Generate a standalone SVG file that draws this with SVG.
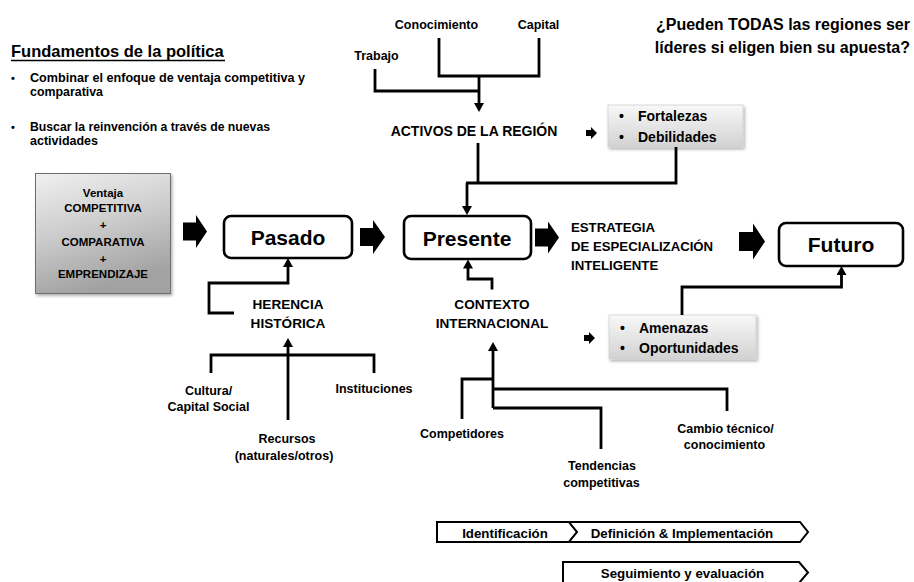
<svg xmlns="http://www.w3.org/2000/svg" width="914" height="582" viewBox="0 0 914 582">
<style>
.t{font-family:'Liberation Sans',Arial,sans-serif;font-weight:bold;fill:#000}
.c{text-anchor:middle}
.ln{fill:none;stroke:#000;stroke-width:2.8}
.ar{marker-end:url(#ah)}
.box{fill:#fff;stroke:#000;stroke-width:2.6}
.blk{fill:#000}
.chev{fill:#fff;stroke:#000;stroke-width:2}
</style>
<defs>
<marker id="ah" viewBox="0 0 9 10" refX="2" refY="5" markerWidth="9" markerHeight="10" markerUnits="userSpaceOnUse" orient="auto">
<path d="M0,0 L9,5 L0,10 Z" fill="#000"/>
</marker>
<linearGradient id="gGray" x1="0" y1="0" x2="0.3" y2="1">
<stop offset="0" stop-color="#f0f0f0"/>
<stop offset="0.5" stop-color="#cdcdcd"/>
<stop offset="1" stop-color="#a2a2a2"/>
</linearGradient>
<linearGradient id="gLight" x1="0" y1="0" x2="0" y2="1">
<stop offset="0" stop-color="#f8f8f8"/>
<stop offset="1" stop-color="#d2d2d2"/>
</linearGradient>
<filter id="sh" x="-10%" y="-10%" width="130%" height="140%">
<feDropShadow dx="1.5" dy="2" stdDeviation="1.5" flood-color="#000" flood-opacity="0.3"/>
</filter>
</defs>
<rect width="914" height="582" fill="#fff"/>

<g id="fundamentos">
<text class="t" x="11" y="57" font-size="16.5">Fundamentos de la política</text>
<line x1="11" y1="60.5" x2="225" y2="60.5" stroke="#000" stroke-width="1.4"/>
<text class="t" x="11" y="82" font-size="11">•</text>
<text class="t" x="30" y="82" font-size="12" textLength="275" lengthAdjust="spacingAndGlyphs">Combinar el enfoque de ventaja competitiva y</text>
<text class="t" x="30" y="96" font-size="12" textLength="73" lengthAdjust="spacingAndGlyphs">comparativa</text>
<text class="t" x="11" y="131" font-size="11">•</text>
<text class="t" x="30" y="131" font-size="12" textLength="240" lengthAdjust="spacingAndGlyphs">Buscar la reinvención a través de nuevas</text>
<text class="t" x="30" y="145" font-size="12" textLength="68" lengthAdjust="spacingAndGlyphs">actividades</text>
</g>

<g id="pregunta">
<text class="t" x="910" y="30" font-size="16" text-anchor="end">¿Pueden TODAS las regiones ser</text>
<text class="t" x="910" y="53" font-size="16" text-anchor="end">líderes si eligen bien su apuesta?</text>
</g>

<g id="conocimiento"><text class="t c" x="436.5" y="29" font-size="12.5">Conocimiento</text></g>
<g id="capital"><text class="t c" x="538.5" y="29" font-size="12.5">Capital</text></g>
<g id="trabajo"><text class="t c" x="376.5" y="60" font-size="12.5">Trabajo</text></g>

<g id="activos"><text class="t c" x="474" y="135.5" font-size="14">ACTIVOS DE LA REGIÓN</text></g>

<g id="fortalezas">
<rect x="608" y="105" width="135" height="42" fill="url(#gLight)" stroke="#cfcfcf" stroke-width="0.8" filter="url(#sh)"/>
<text class="t" x="619" y="121" font-size="14">•</text>
<text class="t" x="638" y="121" font-size="14">Fortalezas</text>
<text class="t" x="619" y="141.5" font-size="14">•</text>
<text class="t" x="638" y="141.5" font-size="14">Debilidades</text>
</g>

<g id="ventaja">
<rect x="35.5" y="173.5" width="135" height="120" fill="url(#gGray)" stroke="#6e6e6e" stroke-width="1" filter="url(#sh)"/>
<text class="t c" x="103" y="197" font-size="11.5">Ventaja</text>
<text class="t c" x="103" y="211.5" font-size="11.5">COMPETITIVA</text>
<text class="t c" x="103" y="229" font-size="11.5">+</text>
<text class="t c" x="103" y="246" font-size="11.5">COMPARATIVA</text>
<text class="t c" x="103" y="263" font-size="11.5">+</text>
<text class="t c" x="103" y="278" font-size="11.5">EMPRENDIZAJE</text>
</g>

<g id="pasado">
<rect class="box" x="224" y="216" width="128" height="42" rx="7"/>
<text class="t c" x="288" y="245" font-size="21">Pasado</text>
</g>
<g id="presente">
<rect class="box" x="404" y="216" width="127" height="43" rx="7"/>
<text class="t c" x="467" y="246" font-size="21">Presente</text>
</g>
<g id="futuro">
<rect class="box" x="779" y="223" width="124" height="43" rx="7"/>
<text class="t c" x="841" y="252" font-size="21">Futuro</text>
</g>

<g id="estrategia">
<text class="t" x="571" y="232" font-size="13.2">ESTRATEGIA</text>
<text class="t" x="571" y="251" font-size="13.2">DE ESPECIALIZACIÓN</text>
<text class="t" x="571" y="270" font-size="13.2">INTELIGENTE</text>
</g>

<g id="herencia">
<text class="t c" x="288" y="309" font-size="13.6">HERENCIA</text>
<text class="t c" x="288" y="328" font-size="13.6">HISTÓRICA</text>
</g>
<g id="contexto">
<text class="t c" x="492" y="309" font-size="13.6">CONTEXTO</text>
<text class="t c" x="492" y="328" font-size="13.6">INTERNACIONAL</text>
</g>

<g id="amenazas">
<rect x="609" y="315" width="147" height="44" fill="url(#gLight)" stroke="#cfcfcf" stroke-width="0.8" filter="url(#sh)"/>
<text class="t" x="620" y="332.5" font-size="14">•</text>
<text class="t" x="639" y="332.5" font-size="14">Amenazas</text>
<text class="t" x="620" y="353" font-size="14">•</text>
<text class="t" x="639" y="353" font-size="14">Oportunidades</text>
</g>

<g id="cultura">
<text class="t c" x="208.5" y="395" font-size="12.5">Cultura/</text>
<text class="t c" x="208.5" y="411" font-size="12.5">Capital Social</text>
</g>
<g id="instituciones"><text class="t c" x="374" y="393" font-size="12.5">Instituciones</text></g>
<g id="recursos">
<text class="t c" x="287" y="443" font-size="12.5">Recursos</text>
<text class="t c" x="284" y="459.5" font-size="12.5">(naturales/otros)</text>
</g>
<g id="competidores"><text class="t c" x="462" y="438" font-size="12.5">Competidores</text></g>
<g id="tendencias">
<text class="t c" x="602" y="470" font-size="12.5">Tendencias</text>
<text class="t c" x="601.5" y="486.5" font-size="12.5">competitivas</text>
</g>
<g id="cambio">
<text class="t c" x="725.5" y="433" font-size="12.5">Cambio técnico/</text>
<text class="t c" x="724.5" y="449" font-size="12.5">conocimiento</text>
</g>

<g id="identificacion">
<path class="chev" d="M437,522 H569 L577,532 L569,542 H437 Z"/>
<text class="t c" x="505" y="538" font-size="13.3">Identificación</text>
</g>
<g id="definicion">
<path class="chev" d="M569,522 H800 L808,532 L800,542 H569 L577,532 Z"/>
<text class="t c" x="682" y="538" font-size="13.3">Definición &amp; Implementación</text>
</g>
<g id="seguimiento">
<path class="chev" d="M563,562 H799 L808,572.5 L799,583 H563 Z"/>
<text class="t c" x="682.5" y="578" font-size="13.3">Seguimiento y evaluación</text>
</g>

<g id="connectors">
<path class="ln" d="M439,38 V76 H539 V38"/>
<path class="ln" d="M375,69 V91 H479"/>
<path class="ln ar" d="M479,76 V105"/>
<path class="ln" d="M478,143 V183"/>
<path class="ln" d="M676,147 V183 H466"/>
<path class="ln ar" d="M467,183 V208"/>
<path class="ln ar" d="M234,313 H209 V283 H288 V265"/>
<path class="ln ar" d="M492,289.5 V279 H468 V266.5"/>
<path class="ln ar" d="M682,315 V287 H841.5 V273"/>
<path class="ln ar" d="M288,420 V345"/>
<path class="ln" d="M211,373 V355 H374 V373"/>
<path class="ln ar" d="M493,408 V349"/>
<path class="ln" d="M462,419 V379 H493"/>
<path class="ln" d="M493,389 H727 V411"/>
<path class="ln" d="M493,408 H601 V449"/>
<path class="blk" d="M183,222.5 H196 V215 L207,231.5 L196,248 V240.5 H183 Z"/>
<path class="blk" d="M360,228 H373 V220 L385,237 L373,254 V246 H360 Z"/>
<path class="blk" d="M535,228.5 H548 V221.5 L559,237.5 L548,253.5 V246.5 H535 Z"/>
<path class="blk" d="M739,232 H753 V223.5 L765,241.5 L753,259.5 V251 H739 Z"/>
<path class="blk" d="M586,130 H591 V127 L597,133 L591,139 V136 H586 Z"/>
<path class="blk" d="M584,335 H589 V332 L595,338 L589,344 V341 H584 Z"/>
</g>
</svg>
